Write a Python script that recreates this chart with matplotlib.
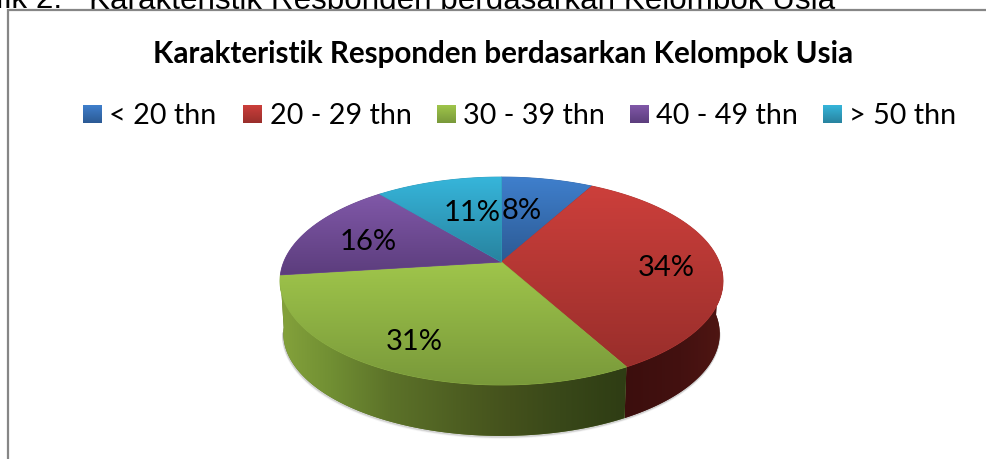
import numpy as np
from matplotlib import pyplot as plt
from matplotlib.colors import to_rgb
from matplotlib.patches import Polygon, Rectangle

# chart data
title = "Karakteristik Responden berdasarkan Kelompok Usia"
caption_head = "Grafik 2."
caption_tail = "Karakteristik Responden berdasarkan Kelompok Usia"
categories = ["< 20 thn", "20 - 29 thn", "30 - 39 thn", "40 - 49 thn", "> 50 thn"]
values = [8, 34, 31, 16, 11]
value_labels = ["8%", "34%", "31%", "16%", "11%"]

# styles and positions, all in pixels of the picture
colors_top = ["#3f7fcc", "#cc3f3b", "#9fc54b", "#8058a8", "#36b5da"]
colors_bottom = ["#2c5a94", "#992e2b", "#79993a", "#5c3d7d", "#28839f"]
label_xy = [(522, 211), (666, 268), (414, 342), (368, 242), (472, 213)]
legend_box_x = [83, 243, 437, 630, 823]
legend_text_x = [109, 270, 463, 656, 849]

center_x, center_y = 501.5, 263
persp = 0.1827
scale_x, scale_y = 217.8, 100.5
depth = 52.8
shrink = 0.985

wall_green_x = [283, 330, 390, 470, 510, 560, 622]
wall_green = ["#83a13b", "#718f33", "#5c7229", "#4b5b20", "#44511c", "#394819", "#2f3d14"]
wall_red_x = [624, 680, 724]
wall_red = ["#3c0e0d", "#431110", "#501613"]

plt.rcParams['font.family'] = ['Lato', 'DejaVu Sans']


def project(theta, radius=1.0):
    # theta in degrees clockwise from the far side of the disk
    t = np.radians(theta)
    u = radius * np.sin(t)
    v = -radius * np.cos(t)
    d = 1 - persp * v
    return scale_x * u / d, scale_y * v / d


def rim(theta):
    x, y = project(theta)
    return center_x + x, center_y + y


def rim_low(theta):
    x, y = project(theta)
    return center_x + shrink * x, center_y + shrink * y + depth


def shade(ax, poly, rgb_img, extent, zorder):
    ax.add_patch(poly)
    im = ax.imshow(rgb_img, extent=extent, aspect='auto', interpolation='bilinear', zorder=zorder)
    im.set_clip_path(poly)


def vertical_grad(top, bottom):
    a, b = np.array(to_rgb(top)), np.array(to_rgb(bottom))
    return np.linspace(a, b, 64).reshape(64, 1, 3)


def horizontal_grad(x0, x1, xs, cols):
    xx = np.linspace(x0, x1, 256)
    rgb = np.array([to_rgb(c) for c in cols])
    img = np.stack([np.interp(xx, xs, rgb[:, i]) for i in range(3)], axis=1)
    return img.reshape(1, 256, 3)


def mid_color(a, b):
    return tuple((np.array(to_rgb(a)) + np.array(to_rgb(b))) / 2)


fig = plt.figure(figsize=(9.86, 4.6), dpi=100)
ax = fig.add_axes([0, 0, 1, 1])
ax.set_axis_off()

# caption of the surrounding document, cut by the top of the picture
ax.text(62, 8.5, caption_head, family=['Liberation Sans'], fontsize=22.6, ha='right', va='baseline', color='black', zorder=1)
ax.text(835, 8.5, caption_tail, family=['Liberation Sans'], fontsize=22.6, ha='right', va='baseline', color='black', zorder=1)

# chart frame
ax.add_patch(Rectangle((8, 11), 990, 460, facecolor='white', edgecolor='#868686', linewidth=1.6, zorder=2))

ax.text(503.5, 54, title, fontsize=21.3, fontweight='bold', ha='center', va='center', zorder=5)

# legend
for i, cat in enumerate(categories):
    x0 = legend_box_x[i]
    box = Rectangle((x0, 106), 18.5, 18, facecolor='none', edgecolor='none', zorder=5)
    shade(ax, box, vertical_grad(colors_top[i], colors_bottom[i]), [x0, x0 + 18.5, 124, 106], 5)
    ax.text(legend_text_x[i], 116, cat, fontsize=20.7, ha='left', va='center', zorder=5)

edges = np.concatenate([[0], np.cumsum(values)]) / np.sum(values) * 360

# soft shadow under the disk
theta_low = np.linspace(100, 260, 200)
low_x, low_y = rim_low(theta_low)
for off, alpha in [(2.0, 0.05), (1.2, 0.10), (0.6, 0.16)]:
    ax.plot(low_x - off * 0.3, low_y + off, color='#555555', lw=1.4, alpha=alpha, zorder=3)

# side wall, only the near side shows
for i, x_stops, wall_cols in [(1, wall_red_x, wall_red), (2, wall_green_x, wall_green)]:
    th = np.linspace(max(edges[i], 90), min(edges[i + 1], 270), 120)
    ux, uy = rim(th)
    lx, ly = rim_low(th)
    pts = np.column_stack([np.r_[ux, lx[::-1]], np.r_[uy, ly[::-1]]])
    x0, x1 = pts[:, 0].min(), pts[:, 0].max()
    y0, y1 = pts[:, 1].min(), pts[:, 1].max()
    poly = Polygon(pts, closed=True, facecolor=mid_color(wall_cols[0], wall_cols[-1]), edgecolor='none', zorder=3)
    shade(ax, poly, horizontal_grad(x0, x1, x_stops, wall_cols), [x0, x1, y1, y0], 3)

# top faces of the slices
for i in range(len(values)):
    th = np.linspace(edges[i], edges[i + 1], 150)
    ux, uy = rim(th)
    pts = np.column_stack([np.r_[center_x, ux], np.r_[center_y, uy]])
    x0, x1 = pts[:, 0].min(), pts[:, 0].max()
    y0, y1 = pts[:, 1].min(), pts[:, 1].max()
    poly = Polygon(pts, closed=True, facecolor=mid_color(colors_top[i], colors_bottom[i]),
                   edgecolor=mid_color(colors_top[i], colors_bottom[i]), linewidth=0.6, zorder=4)
    shade(ax, poly, vertical_grad(colors_top[i], colors_bottom[i]), [x0, x1, y1, y0], 4)

for (x, y), lab in zip(label_xy, value_labels):
    ax.text(x, y, lab, fontsize=21, ha='center', va='center', color='black', zorder=6)

ax.set_xlim(0, 986)
ax.set_ylim(460, 0)
fig.savefig("out.png", dpi=100)
